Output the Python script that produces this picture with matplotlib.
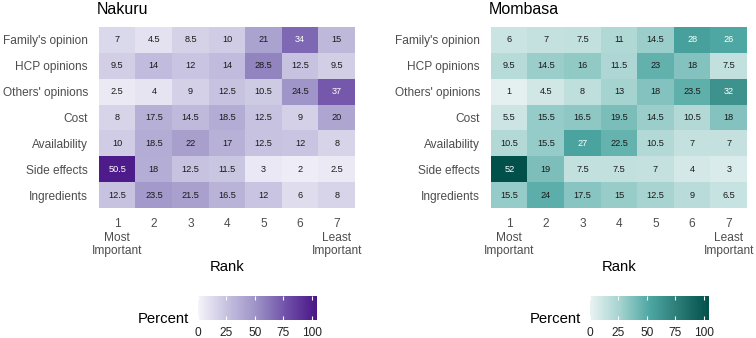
import matplotlib
matplotlib.use('agg')
import matplotlib.pyplot as plt
from matplotlib.colors import LinearSegmentedColormap, Normalize
from matplotlib.cm import ScalarMappable
import numpy as np

plt.rcParams['font.family'] = ['Liberation Sans', 'DejaVu Sans']

factors = ["Family's opinion", "HCP opinions", "Others' opinions", "Cost",
           "Availability", "Side effects", "Ingredients"]
ranks = ["1\nMost\nImportant", "2", "3", "4", "5", "6", "7\nLeast\nImportant"]

nakuru = [
    [7, 4.5, 8.5, 10, 21, 34, 15],
    [9.5, 14, 12, 14, 28.5, 12.5, 9.5],
    [2.5, 4, 9, 12.5, 10.5, 24.5, 37],
    [8, 17.5, 14.5, 18.5, 12.5, 9, 20],
    [10, 18.5, 22, 17, 12.5, 12, 8],
    [50.5, 18, 12.5, 11.5, 3, 2, 2.5],
    [12.5, 23.5, 21.5, 16.5, 12, 6, 8],
]
mombasa = [
    [6, 7, 7.5, 11, 14.5, 28, 26],
    [9.5, 14.5, 16, 11.5, 23, 18, 7.5],
    [1, 4.5, 8, 13, 18, 23.5, 32],
    [5.5, 15.5, 16.5, 19.5, 14.5, 10.5, 18],
    [10.5, 15.5, 27, 22.5, 10.5, 7, 7],
    [52, 19, 7.5, 7.5, 7, 4, 3],
    [15.5, 24, 17.5, 15, 12.5, 9, 6.5],
]

# fill is mapped to counts (2 x percent), legend runs 0..104
count_factor = 2
fill_max = 104.5

purple = LinearSegmentedColormap.from_list(
    "pur", ["#f5f4fa", "#c4c0df", "#9b90c5", "#6e4ea8", "#4a1486"])
teal = LinearSegmentedColormap.from_list(
    "teal", ["#e8f3f2", "#a5d3d0", "#4ea7a3", "#2a7a75", "#01504a"])

panels = [
    ("Nakuru", nakuru, purple, 30, 0.131, 198),
    ("Mombasa", mombasa, teal, 25, 0.6495, 590),
]

W, H = 756, 338
fig = plt.figure(figsize=(W / 100, H / 100), dpi=100)
norm = Normalize(0, fill_max)

for title, data, cmap, white_above, left, cb_left in panels:
    vals = np.array(data, dtype=float)
    ax = fig.add_axes([left, 1 - 208 / H, 256 / W, 181 / H])
    ax.imshow(vals * count_factor, cmap=cmap, norm=norm, aspect='auto',
              interpolation='nearest')
    for i in range(vals.shape[0]):
        for j in range(vals.shape[1]):
            v = vals[i, j]
            ax.text(j, i, f"{v:g}", ha='center', va='center', fontsize=6.6,
                    color='white' if v > white_above else '#1a1a1a')
    for s in ax.spines.values():
        s.set_visible(False)
    ax.set_xticks(range(len(ranks)))
    ax.set_xticklabels(ranks, fontsize=8.6, color='#4d4d4d', linespacing=1.2,
                       va='top')
    ax.set_yticks(range(len(factors)))
    ax.set_yticklabels(factors, fontsize=8.6, color='#4d4d4d')
    ax.tick_params(axis='x', length=0, pad=7)
    ax.tick_params(axis='y', length=0, pad=8)
    ax.set_xlabel("Rank", fontsize=10.7, labelpad=2)
    ax.set_title(title, fontsize=11.5, loc='left', pad=9, x=-0.01)

    cax = fig.add_axes([cb_left / W, 1 - 320 / H, 119 / W, 24 / H])
    cb = fig.colorbar(ScalarMappable(norm=norm, cmap=cmap), cax=cax,
                      orientation='horizontal')
    cb.outline.set_visible(False)
    cb.set_ticks([0, 25, 50, 75, 100])
    cax.tick_params(length=0, pad=5, labelsize=8.6, labelcolor='#222222')
    tr = cax.get_xaxis_transform()
    cax.vlines([0, 25, 50, 75, 100], 0, 0.18, colors='white', lw=0.8, transform=tr)
    cax.vlines([0, 25, 50, 75, 100], 0.82, 1, colors='white', lw=0.8, transform=tr)
    fig.text((cb_left - 9) / W, 1 - 323 / H, "Percent", ha='right',
             va='baseline', fontsize=10.7)

fig.savefig("out.png", dpi=100)
